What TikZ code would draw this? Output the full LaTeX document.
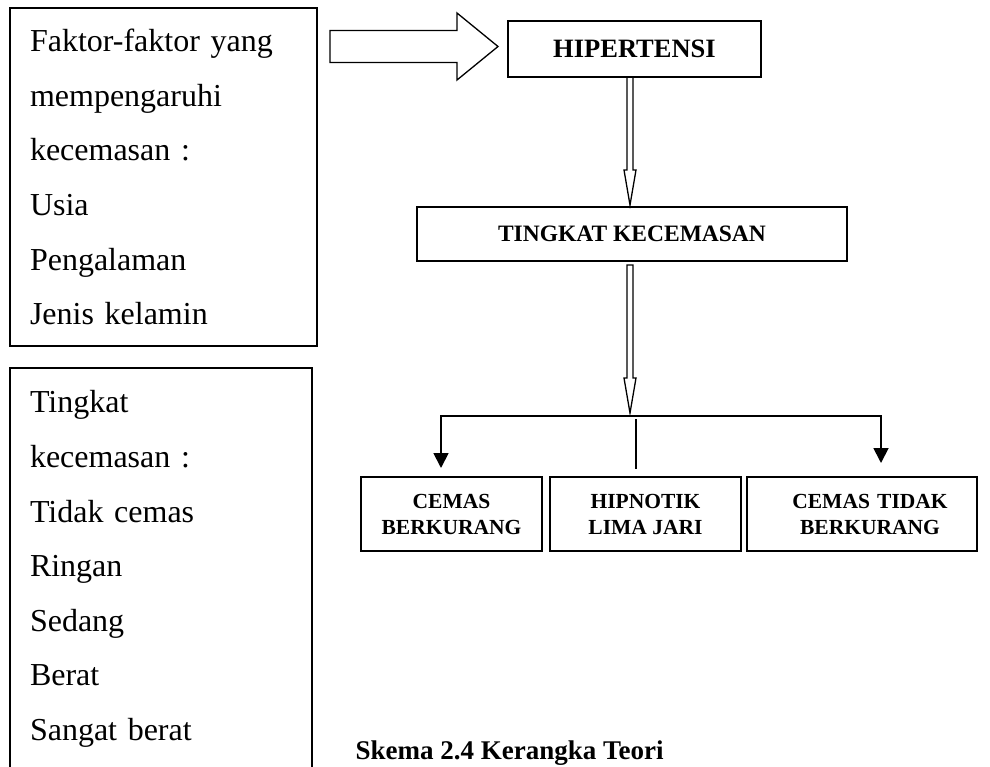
\documentclass[tikz,border=0pt]{standalone}
\usepackage{fontspec}
\setmainfont{Liberation Serif}
\usetikzlibrary{arrows.meta,calc,positioning}

\begin{document}
\begin{tikzpicture}[x=1pt,y=-1pt,
    listbox/.style={draw,line width=1.6pt,outer sep=0pt,anchor=north west,align=left,
        inner xsep=20pt,inner ysep=0pt,font=\fontsize{32}{54.6}\selectfont},
    headbox/.style={draw,line width=1.6pt,outer sep=0pt,inner sep=0pt},
    outbox/.style={draw,line width=1.6pt,outer sep=0pt,inner sep=0pt,align=center,
        minimum height=74pt,font=\fontsize{21.5}{26}\selectfont\bfseries},
    hollow/.style={draw,line width=1.3pt,line join=miter},
    branch/.style={line width=1.8pt,-{Triangle[length=15pt,width=15pt]}}]
        \useasboundingbox (0,0) rectangle (990,766);
        % left column
        \node[listbox,text width=267pt,minimum width=307pt,minimum height=338pt] (fak) at (10,8)
            {Faktor-faktor yang\\mempengaruhi\\kecemasan :\\Usia\\Pengalaman\\Jenis kelamin};
        \node[listbox,text width=262pt,minimum width=302pt,minimum height=402pt] (tkt) at (10,368)
            {Tingkat\\kecemasan :\\Tidak cemas\\Ringan\\Sedang\\Berat\\Sangat berat};
        % right column
        \node[headbox,anchor=north west,minimum width=253pt,minimum height=56pt,
            font=\fontsize{26.5}{30}\selectfont\bfseries] (hip) at (508,21) {HIPERTENSI};
        \node[headbox,anchor=north west,minimum width=430pt,minimum height=54pt,
            font=\fontsize{23.5}{28}\selectfont\bfseries] (tin) at (417,207) {TINGKAT KECEMASAN};
        \node[outbox,anchor=north west,minimum width=181pt] (cb) at (361,477) {CEMAS\\BERKURANG};
        \node[outbox,right=8pt of cb,minimum width=191pt] (hl) {HIPNOTIK\\LIMA JARI};
        \node[outbox,right=6pt of hl,minimum width=230pt,text width=230pt,inner xsep=0pt,
            xshift=0pt] (ct) {\hspace*{16pt}CEMAS TIDAK\\\hspace*{16pt}BERKURANG};
        \node[anchor=base west,font=\fontsize{27}{32}\selectfont\bfseries] (cap) at (352,759)
            {Skema 2.4 Kerangka Teori};

        % big hollow arrow
        \coordinate (bs) at ($(fak.east |- hip.west)+(13,-2.5)$);
        \coordinate (bt) at ($(hip.west)+(-10,-2.5)$);
        \draw[hollow] ($(bs)+(0,-16)$) -- ($(bt)+(-41,-16)$) -- ($(bt)+(-41,-33.5)$) -- (bt)
            -- ($(bt)+(-41,33.5)$) -- ($(bt)+(-41,16)$) -- ($(bs)+(0,16)$) -- cycle;

        % thin hollow arrows
        \coordinate (a1) at ($(hip.south)+(-4.5,0)$);
        \coordinate (a1t) at ($(tin.north)+(-2,-2)$);
        \draw[hollow] ($(a1)+(-3,0)$) -- ($(a1t)+(-3,-35)$) -- ($(a1t)+(-6,-35)$) -- (a1t)
            -- ($(a1t)+(6,-35)$) -- ($(a1t)+(3,-35)$) -- ($(a1)+(3,0)$) -- cycle;
        \coordinate (a2) at ($(tin.south)+(-2,4)$);
        \coordinate (fork) at ($(tin.south)+(-2,155)$);
        \coordinate (a2t) at ($(fork)+(0,-3)$);
        \draw[hollow] ($(a2)+(-3,0)$) -- ($(a2t)+(-3,-35)$) -- ($(a2t)+(-6,-35)$) -- (a2t)
            -- ($(a2t)+(6,-35)$) -- ($(a2t)+(3,-35)$) -- ($(a2)+(3,0)$) -- cycle;

        % branches
        \draw[branch] (fork) -| ($(cb.north)+(-10.5,-9)$);
        \draw[branch] (fork) -| ($(ct.north)+(19,-14)$);
        \draw[line width=1.4pt] ($(hl.north)+(-9.5,-58)$) -- ($(hl.north)+(-9.5,-8)$);
    \end{tikzpicture}
\end{document}
